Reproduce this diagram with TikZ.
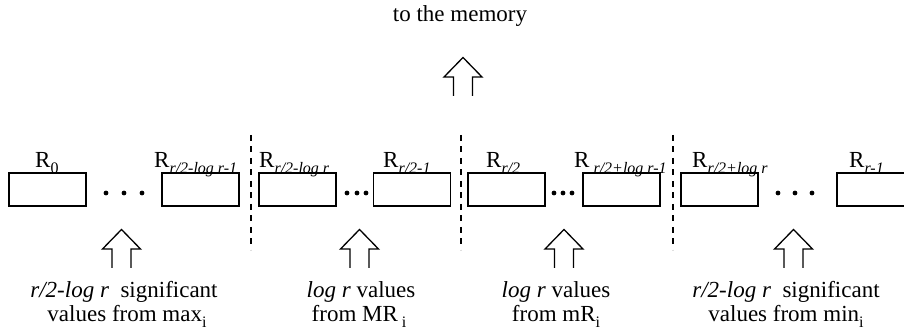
\documentclass[tikz,border=0pt]{standalone}
\usepackage{fontspec}
\setmainfont{Liberation Serif}
\newcommand{\bigf}{\fontsize{23}{24}\selectfont}
\newcommand{\subf}{\fontsize{16}{16}\selectfont}
\newcommand{\sbit}[1]{\raisebox{-5.5pt}{\subf\itshape #1}}
\newcommand{\sbup}[1]{\raisebox{-5.5pt}{\subf #1}}
\begin{document}
\begin{tikzpicture}[x=1pt,y=-1pt,
  reg/.style={draw,line width=1.3pt,minimum width=77pt,minimum height=33pt,inner sep=0pt},
  lab/.style={anchor=base west,inner sep=0pt,font=\bigf},
  txt/.style={anchor=base,inner sep=0pt,font=\bigf,align=center},
  sep/.style={line width=1.1pt,dash pattern=on 6pt off 5.5pt},
  dotm/.style={fill,circle,inner sep=0pt,minimum size=4.8pt},
  arrowline/.style={line width=1.3pt,line join=miter},
  openarrow/.pic={\draw[arrowline] (-9.5,0) -- (-9.5,-19) -- (-19,-19) -- (0,-38.5) -- (19,-19) -- (9.5,-19) -- (9.5,0);}
]
\clip (0,0) rectangle (904,336);
% top text and arrow
\node[txt] (mem) at (460,22) {to the memory};
\pic at (463,96) {openarrow};
% registers
\node[reg] (b1) at (47.5,189.5) {};
\node[reg] (b2) at (200.5,189.5) {};
\node[reg] (b3) at (297.5,189.5) {};
\node[reg] (b4) at (412,189.5) {};
\node[reg] (b5) at (506.5,189.5) {};
\node[reg] (b6) at (621.5,189.5) {};
\node[reg] (b7) at (719.5,189.5) {};
\node[reg] (b8) at (875.5,189.5) {};
% labels
\node[lab] (l1) at (35,168) {R\sbup{0}};
\node[lab] (l2) at (154,168) {R\sbit{r/2-log r-1}};
\node[lab] (l3) at (259,168) {R\sbit{r/2-log r}};
\node[lab] (l4) at (383,168) {R\sbit{r/2-1}};
\node[lab] (l5) at (486,168) {R\sbit{r/2}};
\node[lab] (l6) at (574,168) {R\sbit{\ r/2+log r-1}};
\node[lab] (l7) at (692,168) {R\sbit{r/2+log r}};
\node[lab] (l8) at (849,168) {R\sbit{r-1}};
% dots
\foreach \x in {106,124,142,347,357,366,554,563,572,778,795,812}
  \node[dotm] at (\x,193) {};
% separators
\draw[sep] (251,135) -- (251,250);
\draw[sep] (461,135) -- (461,250);
\draw[sep] (673,135) -- (673,250);
% bottom arrows
\pic at (121.5,268) {openarrow};
\pic at (359.5,268) {openarrow};
\pic at (564,268) {openarrow};
\pic at (793.5,268) {openarrow};
% bottom texts
\node[txt] (t1a) at (124,298) {\textit{r/2-log r}\ \ significant};
\node[txt] (t1b) at (127,322) {values from max\sbup{i}};
\node[txt] (t2a) at (361,298) {\textit{log r} values};
\node[txt] (t2b) at (359,322) {from MR\,\sbup{i}};
\node[txt] (t3a) at (556,298) {\textit{log r} values};
\node[txt] (t3b) at (556,322) {from mR\sbup{i}};
\node[txt] (t4a) at (786,298) {\textit{r/2-log r}\ \ significant};
\node[txt] (t4b) at (786,322) {values from min\sbup{i}};
\end{tikzpicture}
\end{document}
